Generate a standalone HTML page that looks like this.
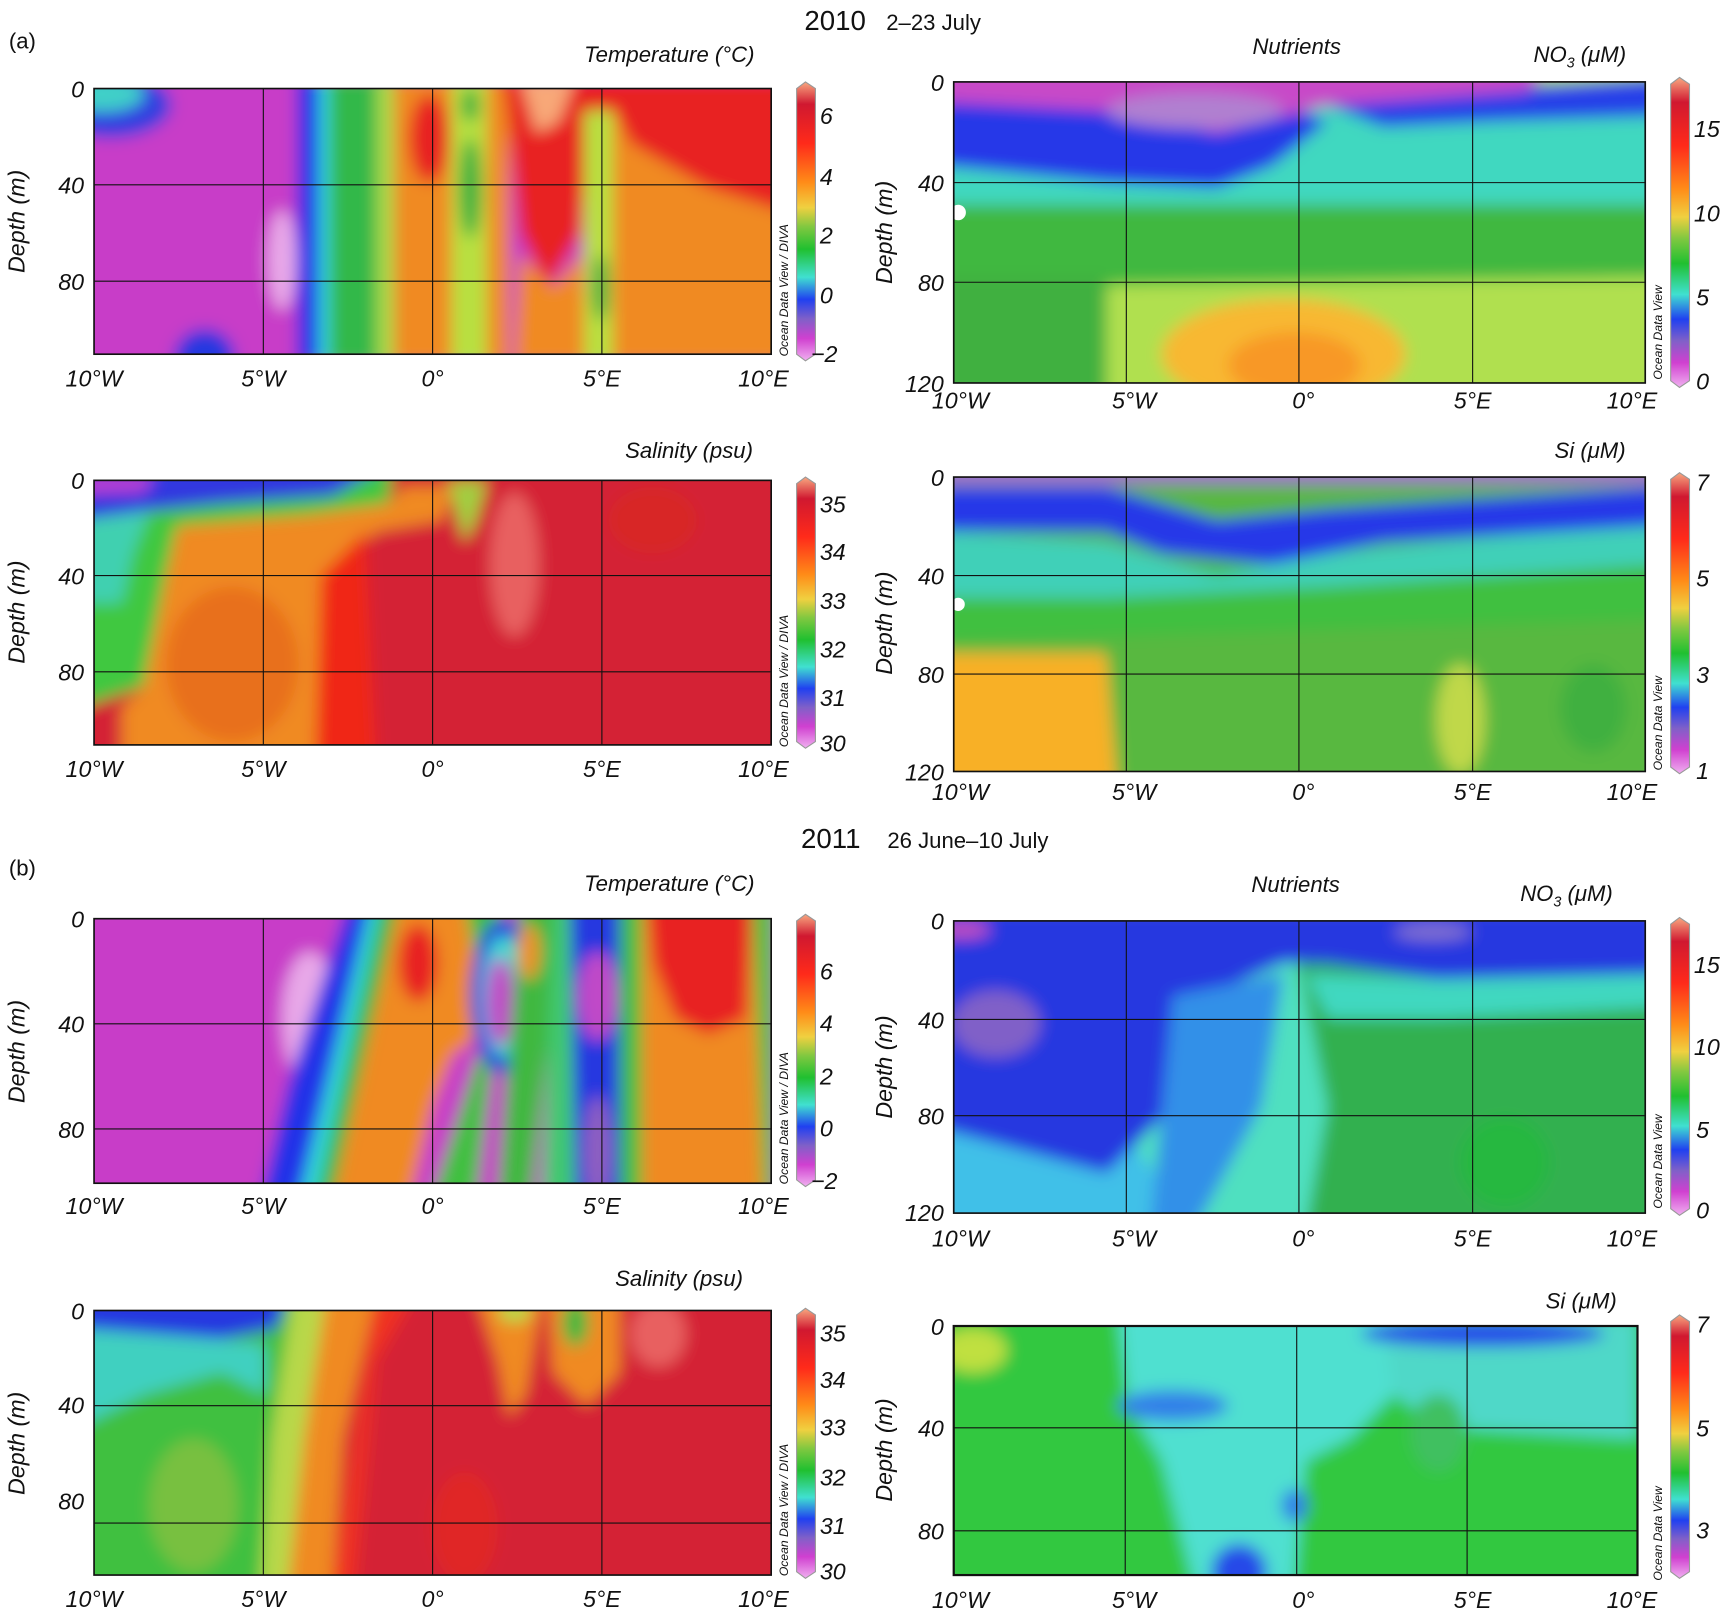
<!DOCTYPE html>
<html><head><meta charset="utf-8"><style>
html,body{margin:0;padding:0;background:#fff;}
svg{display:block;}
text{font-family:"Liberation Sans",sans-serif;}
.t{font-style:italic;font-size:21px;fill:#111;}
.h{font-style:italic;font-size:20px;fill:#111;}
.o{font-style:italic;font-size:11px;fill:#111;}
</style></head><body>
<svg width="1726" height="1616" viewBox="0 0 1560 1460" preserveAspectRatio="none" xmlns="http://www.w3.org/2000/svg">
<defs>
<linearGradient id="cb" x1="0" y1="0" x2="0" y2="1">
<stop offset="0" stop-color="#f8a880"/><stop offset="0.08" stop-color="#d01830"/><stop offset="0.22" stop-color="#ff2a1a"/>
<stop offset="0.36" stop-color="#ff8c18"/><stop offset="0.45" stop-color="#f0d040"/><stop offset="0.52" stop-color="#80c840"/>
<stop offset="0.6" stop-color="#20c030"/><stop offset="0.7" stop-color="#40e0d0"/><stop offset="0.78" stop-color="#2040f0"/>
<stop offset="0.85" stop-color="#8060c8"/><stop offset="0.92" stop-color="#d040d0"/><stop offset="1" stop-color="#f0b0f0"/>
</linearGradient>
<filter id="bl" x="-10%" y="-10%" width="120%" height="120%"><feGaussianBlur stdDeviation="7"/></filter>
<clipPath id="c1"><rect x="85" y="80" width="612" height="240"/></clipPath>
<clipPath id="c2"><rect x="85" y="434" width="612" height="239"/></clipPath>
<clipPath id="c3"><rect x="862" y="74" width="625" height="272"/></clipPath>
<clipPath id="c4"><rect x="862" y="431" width="625" height="266"/></clipPath>
<clipPath id="c5"><rect x="85" y="830" width="612" height="239"/></clipPath>
<clipPath id="c6"><rect x="85" y="1184" width="612" height="239"/></clipPath>
<clipPath id="c7"><rect x="862" y="832" width="625" height="264"/></clipPath>
<clipPath id="c8"><rect x="862" y="1198" width="618" height="225"/></clipPath>
</defs>

<text x="727" y="27" font-size="25" fill="#111">2010</text><text x="801" y="27" font-size="20" fill="#111">2–23 July</text>
<text x="8" y="44" font-size="20" fill="#111">(a)</text>
<text x="724" y="766" font-size="25" fill="#111">2011</text><text x="802" y="766" font-size="20" fill="#111">26 June–10 July</text>
<text x="8" y="791" font-size="20" fill="#111">(b)</text>

<g clip-path="url(#c1)"><g filter="url(#bl)">
<rect x="70" y="60" width="650" height="280" fill="#c83ec8"/>
<ellipse cx="100" cy="95" rx="55" ry="30" fill="#3040e0"/><ellipse cx="92" cy="85" rx="38" ry="16" fill="#40d0c8"/>
<ellipse cx="185" cy="325" rx="28" ry="28" fill="#2838e0"/>
<ellipse cx="255" cy="235" rx="13" ry="45" fill="#e8a8e8"/>
<polygon points="268,70 292,70 290,330 268,330" fill="#2030e8"/>
<polygon points="288,70 300,70 298,330 288,330" fill="#30d8d8"/>
<polygon points="298,70 345,70 345,330 298,330" fill="#30b848"/>
<polygon points="340,70 358,70 358,330 340,330" fill="#a8d848"/>
<polygon points="356,70 412,70 412,330 356,330" fill="#f08a20"/>
<ellipse cx="388" cy="125" rx="18" ry="40" fill="#e82020"/>
<polygon points="408,70 442,70 442,330 408,330" fill="#b8e040"/>
<ellipse cx="425" cy="170" rx="10" ry="45" fill="#40b040"/><ellipse cx="425" cy="95" rx="8" ry="15" fill="#40b040"/>
<polygon points="440,70 460,70 460,330 440,330" fill="#f08a20"/>
<polygon points="455,70 535,70 525,210 495,260 470,210" fill="#e82020"/>
<polygon points="470,70 520,70 505,110 485,120" fill="#f8a878"/>
<polygon points="470,230 500,260 525,230 532,330 465,330" fill="#f08a20"/>
<polygon points="528,100 556,100 556,330 528,330" fill="#b8e040"/>
<ellipse cx="543" cy="260" rx="8" ry="30" fill="#50b040"/>
<polygon points="554,70 720,70 720,330 554,330" fill="#f08a20"/>
<polygon points="530,70 720,70 720,195 640,170 570,130 555,100 530,100" fill="#e82020"/>
</g></g>

<g clip-path="url(#c2)"><g filter="url(#bl)">
<rect x="70" y="420" width="650" height="270" fill="#d42034"/>
<polygon points="70,420 355,420 350,470 290,480 200,485 150,520 130,620 70,640" fill="#40c840"/>
<polygon points="70,450 140,450 120,500 110,545 70,545" fill="#40d0b0"/>
<polygon points="70,420 350,420 300,448 200,455 130,462 70,470" fill="#3038e0"/>
<polygon points="70,430 140,430 130,444 70,446" fill="#c040d0"/>
<polygon points="150,520 160,475 280,465 350,455 365,440 410,440 400,470 340,480 300,520 290,690 110,690 110,640 130,620" fill="#f08a20"/>
<ellipse cx="210" cy="600" rx="60" ry="70" fill="#e8701c"/>
<polygon points="290,520 330,480 340,690 285,690" fill="#f02818"/>
<polygon points="405,435 440,435 430,470 420,490" fill="#a0d040"/>
<ellipse cx="465" cy="510" rx="22" ry="65" fill="#e86060"/>
<ellipse cx="590" cy="470" rx="40" ry="30" fill="#d82828"/>
</g></g>

<g clip-path="url(#c3)"><g filter="url(#bl)">
<rect x="850" y="60" width="650" height="300" fill="#b0e050"/>
<polygon points="850,180 1500,170 1500,250 850,260" fill="#40b840"/>
<polygon points="850,250 1000,250 1000,360 850,360" fill="#40b040"/>
<ellipse cx="1160" cy="320" rx="110" ry="50" fill="#f8b830"/>
<ellipse cx="1170" cy="330" rx="60" ry="30" fill="#f89828"/>
<rect x="850" y="85" width="650" height="100" fill="#40d8c0"/>
<polygon points="850,85 1150,90 1200,110 1150,150 1100,170 1000,165 850,150" fill="#2838e8"/>
<polygon points="1200,95 1350,80 1500,70 1500,105 1350,110 1250,115" fill="#2840e8"/>
<polygon points="850,60 1400,60 1380,82 1200,95 1100,120 1000,100 850,92" fill="#c848c8"/>
<ellipse cx="1080" cy="100" rx="80" ry="16" fill="#b080d0"/>
</g>
<ellipse cx="866" cy="192" rx="7" ry="7" fill="#fff"/></g>

<g clip-path="url(#c4)"><g filter="url(#bl)">
<rect x="850" y="420" width="650" height="290" fill="#58b840"/>
<polygon points="850,520 1500,500 1500,560 850,580" fill="#40c040"/>
<polygon points="850,480 1000,490 1100,520 1200,500 1500,470 1500,510 1200,530 1000,540 850,540" fill="#40d0b8"/>
<polygon points="850,440 1000,440 1100,470 1200,460 1500,440 1500,475 1250,490 1150,510 1050,500 1000,480 850,480" fill="#2838e8"/>
<rect x="850" y="420" width="650" height="18" fill="#a070c8"/>
<polygon points="850,590 1000,590 1010,710 850,710" fill="#f8b028"/>
<ellipse cx="1320" cy="650" rx="22" ry="50" fill="#c0d848"/>
<ellipse cx="1440" cy="640" rx="30" ry="40" fill="#40b040"/>
</g>
<ellipse cx="866" cy="546" rx="6" ry="6" fill="#fff"/></g>

<g clip-path="url(#c5)"><g filter="url(#bl)">
<rect x="70" y="815" width="650" height="270" fill="#c83ec8"/>
<ellipse cx="280" cy="920" rx="25" ry="60" fill="#e8a8e8"/>
<polygon points="315,815 345,815 285,1085 235,1085 260,980" fill="#2030e8"/>
<polygon points="335,815 350,815 300,1085 270,1085" fill="#30d8d8"/>
<polygon points="345,815 380,815 350,1085 285,1085" fill="#30b840"/>
<polygon points="360,815 400,815 430,900 390,1000 340,1085 300,1085" fill="#f08a20"/>
<polygon points="380,815 440,815 440,930 400,960 370,1085 330,1085" fill="#f08a20"/>
<ellipse cx="378" cy="870" rx="18" ry="35" fill="#e82020"/>
<polygon points="420,815 440,815 460,830 430,1085 390,1085 440,930" fill="#40c040"/>
<ellipse cx="455" cy="900" rx="30" ry="70" fill="#2838e0"/>
<ellipse cx="455" cy="900" rx="20" ry="55" fill="#40d8d0"/>
<ellipse cx="452" cy="905" rx="13" ry="40" fill="#c048c8"/>
<polygon points="470,815 500,815 500,900 480,1085 450,1085" fill="#40b840"/>
<ellipse cx="478" cy="860" rx="10" ry="25" fill="#f09028"/>
<polygon points="500,815 525,815 520,1085 490,1085" fill="#40c870"/>
<polygon points="515,815 565,815 560,1085 520,1085" fill="#2838e0"/>
<ellipse cx="540" cy="900" rx="18" ry="40" fill="#c048c8"/><ellipse cx="540" cy="1040" rx="12" ry="50" fill="#9060c0"/>
<polygon points="560,815 585,815 580,1085 560,1085" fill="#40c040"/>
<polygon points="580,815 700,815 700,1085 580,1085" fill="#f08a20"/>
<polygon points="585,815 680,815 675,920 640,935 610,920 590,870" fill="#e82020"/>
<polygon points="680,815 700,815 700,1085 690,1085" fill="#50c040"/>
</g></g>

<g clip-path="url(#c6)"><g filter="url(#bl)">
<rect x="70" y="1170" width="650" height="270" fill="#d42034"/>
<polygon points="70,1170 280,1170 250,1300 240,1440 70,1440" fill="#40c040"/>
<ellipse cx="175" cy="1360" rx="40" ry="60" fill="#78c040"/>
<polygon points="70,1195 240,1215 240,1260 200,1240 130,1260 70,1290" fill="#40d0c0"/>
<polygon points="70,1170 260,1170 250,1200 200,1210 70,1200" fill="#2838e0"/>
<polygon points="265,1170 300,1170 275,1300 265,1440 235,1440 245,1300" fill="#b8d848"/>
<polygon points="295,1170 340,1170 310,1300 300,1440 260,1440 275,1300" fill="#f08a20"/>
<polygon points="340,1170 375,1170 340,1230 320,1440 300,1440" fill="#f03020"/>
<polygon points="430,1170 490,1170 475,1260 460,1280 450,1230" fill="#f08a20"/>
<ellipse cx="465" cy="1185" rx="15" ry="10" fill="#b8d848"/>
<polygon points="495,1170 560,1170 560,1240 530,1270 500,1240" fill="#f08a20"/>
<ellipse cx="520" cy="1195" rx="12" ry="22" fill="#40b840"/>
<ellipse cx="595" cy="1205" rx="25" ry="30" fill="#e86060"/>
<ellipse cx="420" cy="1380" rx="30" ry="50" fill="#e02828"/>
</g></g>

<g clip-path="url(#c7)"><g filter="url(#bl)">
<rect x="850" y="820" width="650" height="290" fill="#30b050"/>
<polygon points="1000,820 1160,820 1180,900 1200,1000 1180,1110 1000,1110" fill="#50e0c0"/>
<polygon points="850,980 1000,1000 1080,1110 850,1110" fill="#40c0e8"/>
<polygon points="850,820 1500,820 1500,880 1300,885 1200,870 1160,870 1090,900 1060,1000 1000,1060 850,1020" fill="#2838e0"/>
<polygon points="1060,900 1160,880 1140,1000 1080,1110 1040,1110" fill="#3090e8"/>
<polygon points="1180,880 1300,885 1500,880 1500,910 1300,920 1200,920" fill="#40d8c0"/>
<ellipse cx="900" cy="925" rx="40" ry="30" fill="#8060c8"/>
<ellipse cx="870" cy="840" rx="25" ry="8" fill="#c050c0"/>
<ellipse cx="1295" cy="842" rx="35" ry="8" fill="#8070d0"/>
<ellipse cx="1360" cy="1050" rx="40" ry="40" fill="#28b840"/>
</g></g>

<g clip-path="url(#c8)"><g filter="url(#bl)">
<rect x="850" y="1185" width="650" height="250" fill="#30c840"/>
<ellipse cx="880" cy="1220" rx="30" ry="20" fill="#c0e040"/>
<polygon points="1010,1185 1250,1185 1260,1260 1220,1300 1180,1320 1170,1435 1080,1435 1050,1320 1020,1270" fill="#50e0d0"/>
<polygon points="1250,1190 1480,1190 1480,1300 1300,1290 1260,1260" fill="#50d8c8"/>
<ellipse cx="1060" cy="1270" rx="50" ry="14" fill="#3080e8"/>
<ellipse cx="1120" cy="1420" rx="25" ry="25" fill="#2848e8"/>
<ellipse cx="1170" cy="1360" rx="12" ry="15" fill="#3080e8"/>
<ellipse cx="1340" cy="1205" rx="110" ry="12" fill="#2848e8"/>
<ellipse cx="1300" cy="1295" rx="25" ry="35" fill="#40c060"/>
</g></g>

<g stroke="#111" fill="none" stroke-width="1">
<rect x="85" y="80" width="612" height="240" stroke-width="1.5"/>
<path d="M238,80V320M391,80V320M544,80V320M85,167H697M85,254H697"/>
<rect x="85" y="434" width="612" height="239" stroke-width="1.5"/>
<path d="M238,434V673M391,434V673M544,434V673M85,520H697M85,607H697"/>
<rect x="862" y="74" width="625" height="272" stroke-width="1.5"/>
<path d="M1018,74V346M1174,74V346M1331,74V346M862,165H1487M862,255H1487"/>
<rect x="862" y="431" width="625" height="266" stroke-width="1.5"/>
<path d="M1018,431V697M1174,431V697M1331,431V697M862,520H1487M862,609H1487"/>
<rect x="85" y="830" width="612" height="239" stroke-width="1.5"/>
<path d="M238,830V1069M391,830V1069M544,830V1069M85,925H697M85,1020H697"/>
<rect x="85" y="1184" width="612" height="239" stroke-width="1.5"/>
<path d="M238,1184V1423M391,1184V1423M544,1184V1423M85,1270H697M85,1376H697"/>
<rect x="862" y="832" width="625" height="264" stroke-width="1.5"/>
<path d="M1018,832V1096M1174,832V1096M1331,832V1096M862,921H1487M862,1008H1487"/>
<rect x="862" y="1198" width="618" height="225" stroke-width="2"/>
<path d="M1017,1198V1423M1172,1198V1423M1326,1198V1423M862,1290H1480M862,1383H1480"/>
</g>

<g stroke="#999" stroke-width="1" fill="url(#cb)">
<path d="M720,80 L728,74 L737,80 V320 L728,326 L720,320Z"/>
<path d="M720,437 L728,431 L737,437 V670 L728,676 L720,670Z"/>
<path d="M1510,76 L1518,70 L1527,76 V344 L1518,350 L1510,344Z"/>
<path d="M1510,433 L1518,427 L1527,433 V693 L1518,699 L1510,693Z"/>
<path d="M720,832 L728,826 L737,832 V1066 L728,1072 L720,1066Z"/>
<path d="M720,1188 L728,1182 L737,1188 V1420 L728,1426 L720,1420Z"/>
<path d="M1510,835 L1518,829 L1527,835 V1092 L1518,1098 L1510,1092Z"/>
<path d="M1510,1194 L1518,1188 L1527,1194 V1420 L1518,1426 L1510,1420Z"/>
</g>

<g font-size="21" fill="#111" font-style="italic">
<text x="741" y="112">6</text><text x="741" y="167">4</text><text x="741" y="220">2</text><text x="741" y="274">0</text><text x="733" y="327">−2</text>
<text x="741" y="463">35</text><text x="741" y="506">34</text><text x="741" y="550">33</text><text x="741" y="594">32</text><text x="741" y="638">31</text><text x="741" y="679">30</text>
<text x="1531" y="124">15</text><text x="1531" y="200">10</text><text x="1533" y="276">5</text><text x="1533" y="352">0</text>
<text x="1533" y="443">7</text><text x="1533" y="530">5</text><text x="1533" y="617">3</text><text x="1533" y="704">1</text>
<text x="741" y="885">6</text><text x="741" y="932">4</text><text x="741" y="980">2</text><text x="741" y="1027">0</text><text x="733" y="1074">−2</text>
<text x="741" y="1212">35</text><text x="741" y="1254">34</text><text x="741" y="1297">33</text><text x="741" y="1342">32</text><text x="741" y="1386">31</text><text x="741" y="1427">30</text>
<text x="1531" y="879">15</text><text x="1531" y="953">10</text><text x="1533" y="1028">5</text><text x="1533" y="1101">0</text>
<text x="1533" y="1204">7</text><text x="1533" y="1298">5</text><text x="1533" y="1390">3</text>
</g>

<g class="o">
<text transform="translate(712,322) rotate(-90)">Ocean Data View / DIVA</text>
<text transform="translate(712,675) rotate(-90)">Ocean Data View / DIVA</text>
<text transform="translate(1502,343) rotate(-90)">Ocean Data View</text>
<text transform="translate(1502,696) rotate(-90)">Ocean Data View</text>
<text transform="translate(712,1070) rotate(-90)">Ocean Data View / DIVA</text>
<text transform="translate(712,1424) rotate(-90)">Ocean Data View / DIVA</text>
<text transform="translate(1502,1092) rotate(-90)">Ocean Data View</text>
<text transform="translate(1502,1428) rotate(-90)">Ocean Data View</text>
</g>

<g class="h">
<text x="528" y="56">Temperature (°C)</text>
<text x="565" y="414">Salinity (psu)</text>
<text x="1132" y="49">Nutrients</text>
<text x="1386" y="56">NO<tspan font-size="13" dy="5">3</tspan><tspan dy="-5"> (μM)</tspan></text>
<text x="1405" y="414">Si (μM)</text>
<text x="528" y="805">Temperature (°C)</text>
<text x="556" y="1162">Salinity (psu)</text>
<text x="1131" y="806">Nutrients</text>
<text x="1374" y="814">NO<tspan font-size="13" dy="5">3</tspan><tspan dy="-5"> (μM)</tspan></text>
<text x="1397" y="1182">Si (μM)</text>
</g>

<g class="t" text-anchor="end">
<text x="76" y="88">0</text><text x="76" y="175">40</text><text x="76" y="262">80</text>
<text x="76" y="442">0</text><text x="76" y="528">40</text><text x="76" y="615">80</text>
<text x="853" y="82">0</text><text x="853" y="173">40</text><text x="853" y="263">80</text><text x="853" y="354">120</text>
<text x="853" y="439">0</text><text x="853" y="528">40</text><text x="853" y="617">80</text><text x="853" y="705">120</text>
<text x="76" y="838">0</text><text x="76" y="933">40</text><text x="76" y="1028">80</text>
<text x="76" y="1192">0</text><text x="76" y="1277">40</text><text x="76" y="1364">80</text>
<text x="853" y="840">0</text><text x="853" y="929">40</text><text x="853" y="1016">80</text><text x="853" y="1103">120</text>
<text x="853" y="1206">0</text><text x="853" y="1298">40</text><text x="853" y="1391">80</text>
</g>
<g class="t" text-anchor="middle">
<text transform="translate(22,200) rotate(-90)">Depth (m)</text>
<text transform="translate(22,553) rotate(-90)">Depth (m)</text>
<text transform="translate(806,210) rotate(-90)">Depth (m)</text>
<text transform="translate(806,563) rotate(-90)">Depth (m)</text>
<text transform="translate(22,950) rotate(-90)">Depth (m)</text>
<text transform="translate(22,1304) rotate(-90)">Depth (m)</text>
<text transform="translate(806,964) rotate(-90)">Depth (m)</text>
<text transform="translate(806,1310) rotate(-90)">Depth (m)</text>
</g>

<g class="t" text-anchor="middle">
<text x="85" y="349">10°W</text><text x="238" y="349">5°W</text><text x="391" y="349">0°</text><text x="544" y="349">5°E</text><text x="690" y="349">10°E</text>
<text x="85" y="702">10°W</text><text x="238" y="702">5°W</text><text x="391" y="702">0°</text><text x="544" y="702">5°E</text><text x="690" y="702">10°E</text>
<text x="868" y="369">10°W</text><text x="1025" y="369">5°W</text><text x="1178" y="369">0°</text><text x="1331" y="369">5°E</text><text x="1475" y="369">10°E</text>
<text x="868" y="723">10°W</text><text x="1025" y="723">5°W</text><text x="1178" y="723">0°</text><text x="1331" y="723">5°E</text><text x="1475" y="723">10°E</text>
<text x="85" y="1097">10°W</text><text x="238" y="1097">5°W</text><text x="391" y="1097">0°</text><text x="544" y="1097">5°E</text><text x="690" y="1097">10°E</text>
<text x="85" y="1452">10°W</text><text x="238" y="1452">5°W</text><text x="391" y="1452">0°</text><text x="544" y="1452">5°E</text><text x="690" y="1452">10°E</text>
<text x="868" y="1126">10°W</text><text x="1025" y="1126">5°W</text><text x="1178" y="1126">0°</text><text x="1331" y="1126">5°E</text><text x="1475" y="1126">10°E</text>
<text x="868" y="1453">10°W</text><text x="1025" y="1453">5°W</text><text x="1178" y="1453">0°</text><text x="1331" y="1453">5°E</text><text x="1475" y="1453">10°E</text>
</g>
</svg>
</body></html>
